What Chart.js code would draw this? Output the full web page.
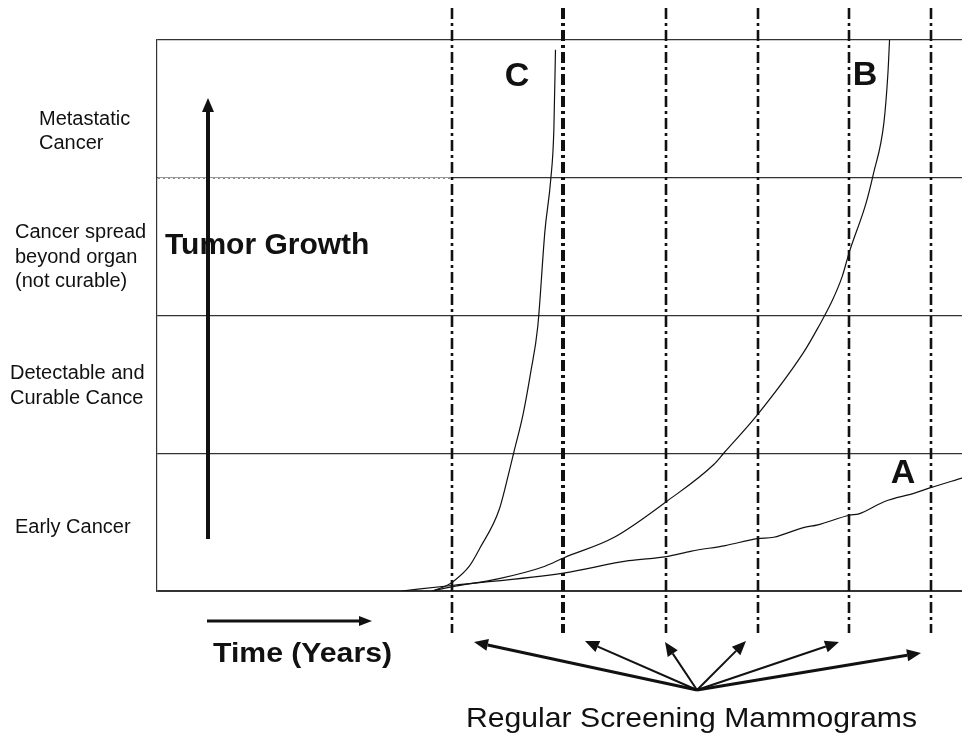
<!DOCTYPE html>
<html>
<head>
<meta charset="utf-8">
<script src="https://cdn.jsdelivr.net/npm/chart.js@4.4.1/dist/chart.umd.min.js"></script>
<style>
  html, body { margin: 0; padding: 0; background: #fff; overflow: hidden; }
  #wrap { width: 962px; height: 735px; }
</style>
</head>
<body>
<div id="wrap"><canvas id="growthChart" width="962" height="735"></canvas></div>
<script>
// time runs 0..100 (no printed ticks), tumour stage runs 0..4
const stageBands = ['Early Cancer', 'Detectable and Curable Cancer', 'Cancer spread beyond organ (not curable)', 'Metastatic Cancer'];

// curve A - slow growing tumour
const timeA = [30.4, 36.6, 50.5, 58.6, 63.3, 66.4, 70.6, 74.6, 76.6, 80.3, 82.1, 86.0, 87.2, 90.4, 94.1, 96.1, 100];
const sizeA = [0.00, 0.04, 0.13, 0.22, 0.25, 0.29, 0.33, 0.38, 0.39, 0.46, 0.48, 0.55, 0.56, 0.65, 0.71, 0.75, 0.82];

// curve B - medium
const timeB = [34.2, 36.6, 42.5, 48.2, 50.5, 56.8, 63.3, 69.2, 70.4, 74.6, 80.3, 82.1, 83.9, 85.1, 86.0, 88.1, 89.0, 90.3, 90.8, 91.0];
const sizeB = [0.00, 0.03, 0.09, 0.18, 0.24, 0.39, 0.65, 0.92, 1.00, 1.28, 1.73, 1.91, 2.11, 2.28, 2.46, 2.82, 3.03, 3.40, 3.76, 4.00];

// curve C - fast (interval cancer)
const timeC = [34.2, 36.0, 36.6, 38.8, 40.1, 42.5, 43.8, 44.3, 45.5, 46.4, 47.3, 48.2, 48.9, 49.3, 49.5];
const sizeC = [0.00, 0.04, 0.06, 0.18, 0.31, 0.59, 0.88, 1.00, 1.29, 1.58, 1.92, 2.62, 2.98, 3.35, 3.93];

// screening mammograms
const screenings = [36.6, 50.4, 63.2, 74.7, 86.0, 96.1];

const FONT = '"Liberation Sans", Arial, Helvetica, sans-serif';

function toPoints(xs, ys) {
    return xs.map((x, i) => ({ x: x, y: ys[i] }));
}

function arrow(ctx, x0, y0, x1, y1, w, head, half) {
    const ang = Math.atan2(y1 - y0, x1 - x0);
    const bx = x1 - head * Math.cos(ang), by = y1 - head * Math.sin(ang);
    ctx.lineWidth = w;
    ctx.beginPath();
    ctx.moveTo(x0, y0);
    ctx.lineTo(bx, by);
    ctx.stroke();
    ctx.beginPath();
    ctx.moveTo(x1, y1);
    ctx.lineTo(bx + half * Math.sin(ang), by - half * Math.cos(ang));
    ctx.lineTo(bx - half * Math.sin(ang), by + half * Math.cos(ang));
    ctx.closePath();
    ctx.fill();
}

// draws text squeezed/stretched to a given width
function fitText(ctx, text, x, y, width) {
    const w = ctx.measureText(text).width;
    ctx.save();
    ctx.translate(x, y);
    ctx.scale(width / w, 1);
    ctx.fillText(text, 0, 0);
    ctx.restore();
}

const overlay = {
    id: 'overlay',
    beforeDatasetsDraw(chart) {
        const { ctx, chartArea: a, scales: { x, y } } = chart;
        ctx.save();
        // left part of the metastatic rule is a faint dotted line
        const py = Math.round(y.getPixelForValue(3)) + 0.5;
        const xEnd = x.getPixelForValue(screenings[0]);
        ctx.strokeStyle = '#fff';
        ctx.lineWidth = 2;
        ctx.beginPath(); ctx.moveTo(a.left + 1, py); ctx.lineTo(xEnd, py); ctx.stroke();
        ctx.strokeStyle = '#888';
        ctx.lineWidth = 1;
        ctx.setLineDash([2, 3]);
        ctx.beginPath(); ctx.moveTo(a.left + 1, py); ctx.lineTo(xEnd, py); ctx.stroke();

        // dash-dot screening lines
        ctx.strokeStyle = '#111';
        ctx.setLineDash([11, 4, 3, 4]);
        screenings.forEach((s, i) => {
            const px = Math.round(x.getPixelForValue(s));
            ctx.lineWidth = i === 1 ? 4 : 2.6;
            ctx.beginPath();
            ctx.moveTo(px, 8);
            ctx.lineTo(px, 633);
            ctx.stroke();
        });
        ctx.restore();
    },
    afterDraw(chart) {
        const { ctx } = chart;
        ctx.save();
        ctx.fillStyle = '#111';
        ctx.strokeStyle = '#111';
        ctx.textBaseline = 'middle';
        ctx.textAlign = 'left';

        // stage names on the left
        ctx.font = '20px ' + FONT;
        [['Metastatic', 39, 119], ['Cancer', 39, 143],
         ['Cancer spread', 15, 232], ['beyond organ', 15, 257], ['(not curable)', 15, 281],
         ['Detectable and', 10, 373], ['Curable Cance', 10, 398],
         ['Early Cancer', 15, 527]].forEach(t => ctx.fillText(t[0], t[1], t[2]));

        // tumour growth arrow
        arrow(ctx, 208, 539, 208, 98, 4, 14, 6);
        ctx.font = 'bold 30px ' + FONT;
        ctx.fillText('Tumor Growth', 165, 246);

        // curve letters
        ctx.textAlign = 'center';
        ctx.font = 'bold 34px ' + FONT;
        ctx.fillText('C', 517, 77);
        ctx.fillText('B', 865, 76);
        ctx.fillText('A', 903, 474);

        // time arrow
        arrow(ctx, 207, 621, 372, 621, 3, 13, 5);
        ctx.textAlign = 'left';
        ctx.textBaseline = 'alphabetic';
        ctx.font = 'bold 28px ' + FONT;
        fitText(ctx, 'Time (Years)', 213, 662, 179);

        // arrows from the label up to each screening
        const hubX = 697, hubY = 690;
        const heads = [[474, 642], [585, 641], [665, 642], [746, 641], [839, 642], [921, 653]];
        heads.forEach((h, i) => {
            arrow(ctx, hubX, hubY, h[0], h[1], (i === 0 || i === 5) ? 3 : 2, 14, 6);
        });
        ctx.font = '28px ' + FONT;
        fitText(ctx, 'Regular Screening Mammograms', 466, 727, 451);
        ctx.restore();
    }
};

const curveStyle = {
    borderColor: '#111',
    borderWidth: 1.2,
    pointRadius: 0,
    fill: false,
    cubicInterpolationMode: 'monotone'
};

new Chart(document.getElementById('growthChart'), {
    type: 'line',
    data: {
        datasets: [
            Object.assign({ label: 'A', data: toPoints(timeA, sizeA) }, curveStyle),
            Object.assign({ label: 'B', data: toPoints(timeB, sizeB) }, curveStyle),
            Object.assign({ label: 'C', data: toPoints(timeC, sizeC) }, curveStyle)
        ]
    },
    options: {
        responsive: false,
        animation: false,
        devicePixelRatio: 1,
        events: [],
        layout: { padding: { left: 157, top: 40, right: 0, bottom: 144 } },
        plugins: { legend: { display: false }, tooltip: { enabled: false } },
        scales: {
            x: {
                type: 'linear',
                min: 0,
                max: 100,
                display: false
            },
            y: {
                type: 'linear',
                min: 0,
                max: stageBands.length,
                ticks: { display: false, stepSize: 1 },
                grid: {
                    drawTicks: false,
                    color: '#333',
                    lineWidth: c => (c.tick && c.tick.value === 0) ? 2 : 1.2
                },
                border: { display: true, color: '#333', width: 1.2 }
            }
        }
    },
    plugins: [overlay]
});
</script>
</body>
</html>
